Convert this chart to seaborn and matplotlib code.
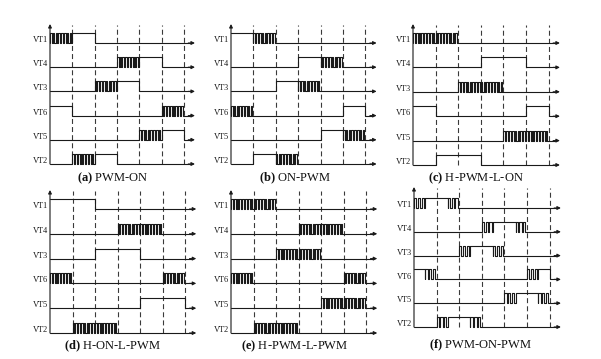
import matplotlib
matplotlib.use("Agg")
import matplotlib.pyplot as plt
import seaborn as sns
import numpy as np
import pandas as pd

sns.set_theme(style="white")
plt.rcParams['font.family'] = ['Liberation Serif', 'DejaVu Serif']
plt.rcParams['mathtext.fontset'] = 'custom'
plt.rcParams['mathtext.rm'] = 'Liberation Serif'
plt.rcParams['mathtext.bf'] = 'Liberation Serif:bold'

# ---- data: switch states per 30-degree slot ('0' off, '1' on, 'P' PWM) ----
channels = ["VT1", "VT4", "VT3", "VT6", "VT5", "VT2"]
titles = ["(a)", "(b)", "(c)", "(d)", "(e)", "(f)"]
names = ["PWM-ON", "ON-PWM", "H-PWM-L-ON", "H-ON-L-PWM", "H-PWM-L-PWM", "PWM-ON-PWM"]

pwm_on = ["PP1100000000", "000000PP1100", "0000PP110000",
          "1100000000PP", "00000000PP11", "00PP11000000"]
on_pwm = ["11PP00000000", "00000011PP00", "000011PP0000",
          "PP0000000011", "0000000011PP", "0011PP000000"]
h_pwm_l_on = ["PPPP00000000", "000000111100", "0000PPPP0000",
              "110000000011", "00000000PPPP", "001111000000"]
h_on_l_pwm = ["111100000000", "000000PPPP00", "000011110000",
              "PP00000000PP", "000000001111", "00PPPP000000"]
h_pwm_l_pwm = ["PPPP00000000", "000000PPPP00", "0000PPPP0000",
               "PP00000000PP", "00000000PPPP", "00PPPP000000"]
pwm_on_pwm = ["P11P00000000", "000000P11P00", "0000P11P0000",
              "1P00000000P1", "00000000P11P", "00P11P000000"]
schemes = [pwm_on, on_pwm, h_pwm_l_on, h_on_l_pwm, h_pwm_l_pwm, pwm_on_pwm]
pulses_per_slot = [4, 4, 4, 4, 4, 3]

# ---- layout (pixels) ----
W, H = 601, 359
# x0, sector px, first baseline, spacing, axis top, title x, title y
layout = [
    (50, 22.3, 43, 24.2, 24, 113, 178),
    (231, 22.4, 43, 24.2, 24, 295, 178),
    (413, 22.6, 43, 24.4, 24, 476, 178),
    (50, 22.5, 209, 24.8, 190, 113, 346),
    (231, 22.5, 209, 24.8, 190, 295, 346),
    (414, 22.6, 208, 23.8, 187, 481, 345),
]

LC = "#1a1a1a"
DC = "#3a3a3a"


def waveform(states, amp, npulse=3, duty=0.6):
    xs, ys = [], []
    w = 0.5
    for k, s in enumerate(states):
        a = k * w
        b = a + w
        if s == '0':
            xs += [a, b]; ys += [0, 0]
        elif s == '1':
            xs += [a, b]; ys += [amp, amp]
        else:
            per = w / npulse
            for p in range(npulse):
                t = a + p * per
                xs += [t, t, t + duty * per, t + duty * per, t + per]
                ys += [0, amp, amp, 0, 0]
    xs += [6.0, 6.3]
    ys += [0, 0]
    return np.array(xs), np.array(ys)


fig = plt.figure(figsize=(W / 100, H / 100), dpi=100)

for idx, (states, lay) in enumerate(zip(schemes, layout)):
    x0, s, y1, d, top, tx, ty = lay
    left_px = x0 - 6
    right_px = x0 + 6.7 * s
    top_px = top - 6
    bot_px = y1 + 5 * d + 6
    ax = fig.add_axes([left_px / W, 1 - bot_px / H,
                       (right_px - left_px) / W, (bot_px - top_px) / H])
    ax.set_xlim((left_px - x0) / s, (right_px - x0) / s)
    ax.set_ylim(-(bot_px - y1) / d, (y1 - top_px) / d)
    ax.set_axis_off()
    amp = 10.0 / d
    ytop = (y1 - top) / d

    # dashed sector boundaries
    ax.vlines(np.arange(1, 7), -5, ytop - 0.05, colors=DC, linewidth=0.8,
              linestyles=(0, (4.5, 2.8)))
    # vertical axis with arrow
    ax.annotate("", xy=(0, ytop), xytext=(0, -5),
                arrowprops=dict(arrowstyle='-|>', color=LC, lw=0.8,
                                mutation_scale=5, shrinkA=0, shrinkB=0))

    for i, (ch, st) in enumerate(zip(channels, states)):
        xs, ys = waveform(st, amp, npulse=pulses_per_slot[idx])
        df = pd.DataFrame({"x": xs, "y": ys - i})
        sns.lineplot(data=df, x="x", y="y", sort=False, estimator=None,
                     color=LC, linewidth=0.8, ax=ax, legend=False)
        ax.annotate("", xy=(6.5, -i), xytext=(6.2, -i),
                    arrowprops=dict(arrowstyle='-|>', color=LC, lw=0.8,
                                    mutation_scale=5, shrinkA=0, shrinkB=0))
        ax.text(-0.1, -i + 0.12, ch, ha='right', va='center', fontsize=6,
                color=LC)
    ax.set_xlabel("")
    ax.set_ylabel("")

    fig.text(tx / W, 1 - ty / H, r"$\mathbf{" + titles[idx] + "}$ " + names[idx],
             ha='center', va='center', fontsize=9, color="#111111")

fig.savefig("out.png", dpi=100, facecolor="white")
